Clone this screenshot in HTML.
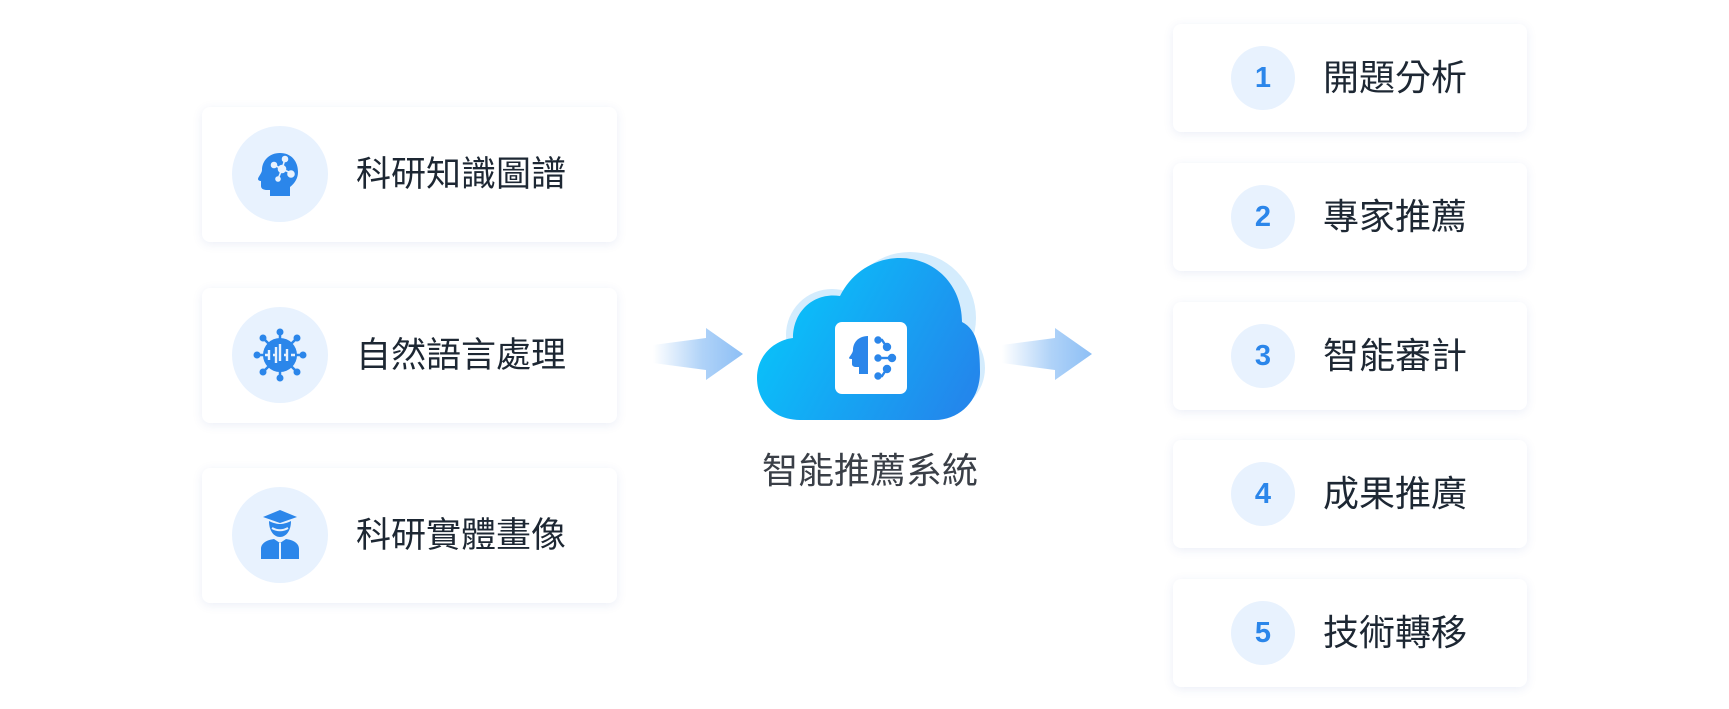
<!DOCTYPE html>
<html><head><meta charset="utf-8"><style>
*{margin:0;padding:0;box-sizing:border-box}
body{width:1729px;height:709px;background:#fff;position:relative;overflow:hidden;font-family:"Liberation Sans","Noto Sans CJK TC",sans-serif}
.card{position:absolute;background:#fff;border-radius:8px;box-shadow:0 2px 10px rgba(60,90,180,0.10)}
.lc{left:202px;width:415px;height:135px}
.rc{left:1173px;width:354px;height:108px}
.ci{position:absolute;left:30px;top:19px;width:96px;height:96px;border-radius:50%;background:#e8f2fe;display:flex;align-items:center;justify-content:center}
.lt{position:absolute;left:154px;top:0;line-height:135px;font-size:35px;color:#1d2733}
.nc{position:absolute;left:58px;top:22px;width:64px;height:64px;border-radius:50%;background:#e8f2fe;color:#2b86ea;font-weight:bold;font-size:29px;text-align:center;line-height:64px}
.rt{position:absolute;left:150px;top:0;line-height:108px;font-size:36px;color:#1d2733}
</style></head><body>
<div class="card lc" style="top:107px"><div class="ci"><svg width="50" height="50" viewBox="0 0 50 50"><path d="M25 4c-11 0-18 8-18 17 0 3-4 7-4 9s3 2 3 2v5c0 3 3 4 6 4h3v6h20v-9c5-4 8-9 8-15C43 12 36 4 25 4z" fill="#2b86ea"/><g stroke="#e8f2fe" stroke-width="1.6" fill="#e8f2fe"><line x1="27" y1="20" x2="19" y2="16"/><line x1="27" y1="20" x2="30" y2="10"/><line x1="27" y1="20" x2="36" y2="24"/><line x1="27" y1="20" x2="23" y2="30"/><circle cx="27" cy="20" r="3.5"/><circle cx="19" cy="16" r="2.5"/><circle cx="30" cy="10" r="2.5"/><circle cx="36" cy="25" r="3"/><circle cx="23" cy="30" r="2"/></g></svg></div><div class="lt">科研知識圖譜</div></div>
<div class="card lc" style="top:288px"><div class="ci"><svg width="56" height="56" viewBox="0 0 56 56"><g stroke="#2b86ea" stroke-width="2.5"><line x1="28" y1="4" x2="28" y2="52"/><line x1="4" y1="28" x2="52" y2="28"/><line x1="11" y1="11" x2="45" y2="45"/><line x1="45" y1="11" x2="11" y2="45"/></g><g fill="#2b86ea"><circle cx="28" cy="28" r="17"/><circle cx="28" cy="5" r="3.5"/><circle cx="28" cy="51" r="3.5"/><circle cx="5" cy="28" r="3.5"/><circle cx="51" cy="28" r="3.5"/><circle cx="11" cy="11" r="3.5"/><circle cx="45" cy="11" r="3.5"/><circle cx="11" cy="45" r="3.5"/><circle cx="45" cy="45" r="3.5"/></g><path d="M13 28h4v-5v10M21 28h3v-8v16M28 28v-11v17M32 28h3v-6v12M39 28h4" stroke="#e8f2fe" stroke-width="2.4" fill="none"/></svg></div><div class="lt">自然語言處理</div></div>
<div class="card lc" style="top:468px"><div class="ci"><svg width="50" height="56" viewBox="0 0 50 56"><path d="M25 3l17 7-17 6-17-6z" fill="#2b86ea"/><path d="M14 14c0 10 5 16 11 16s11-6 11-16c-4 2-8 3-11 3s-7-1-11-3z" fill="#2b86ea"/><path d="M17 21c5 3 11 3 16 0" stroke="#e8f2fe" stroke-width="2" fill="none"/><path d="M6 52v-10c0-6 6-9 13-10l6 4 6-4c7 1 13 4 13 10v10z" fill="#2b86ea"/><path d="M25 36v16" stroke="#e8f2fe" stroke-width="2"/></svg></div><div class="lt">科研實體畫像</div></div>

<svg style="position:absolute;left:0;top:0" width="1729" height="709">
<defs>
<linearGradient id="ar" x1="0" x2="1"><stop offset="0" stop-color="#8dbff5" stop-opacity="0"/><stop offset="0.55" stop-color="#8dbff5" stop-opacity="0.7"/><stop offset="1" stop-color="#8dbff5"/></linearGradient>
<linearGradient id="cl" x1="0" y1="0.3" x2="1" y2="0.7"><stop offset="0" stop-color="#07c6fb"/><stop offset="1" stop-color="#2387ec"/></linearGradient>
</defs>
<path d="M653 345L706 338V328L743 354L706 380V370L653 363Z" fill="url(#ar)"/>
<path d="M1002 345L1055 338V328L1092 354L1055 380V370L1002 363Z" fill="url(#ar)"/>
<g fill="#d4ecfd"><circle cx="910" cy="318" r="66"/><circle cx="832" cy="335" r="46"/><circle cx="940" cy="368" r="45"/></g>
<path d="M800 420C772 420 757 400 757 378C757 355 775 340 793 338C793 310 815 292 840 296C852 272 875 258 900 258C935 258 962 285 962 322C978 330 980 350 980 372C980 400 960 420 935 420Z" fill="url(#cl)"/>
<rect x="835" y="322" width="72" height="72" rx="7" fill="#fff"/>
<path d="M868 336c-10 0-15 7-15 14 0 3-4 7-4 8s3 1 3 1v5c0 2 2 3 4 3h3v7h9z" fill="#2b86ea"/>
<g stroke="#2b86ea" stroke-width="2.4" fill="#2b86ea"><path d="M878 340h4l4 6" fill="none"/><circle cx="878" cy="340" r="2.5"/><circle cx="887" cy="347" r="3"/><line x1="878" y1="358" x2="892" y2="358"/><circle cx="878" cy="358" r="2.5"/><circle cx="892" cy="358" r="3"/><path d="M878 376h4l4-6" fill="none"/><circle cx="878" cy="376" r="2.5"/><circle cx="887" cy="369" r="3"/></g>
<text x="870" y="483" text-anchor="middle" font-size="36" fill="#3a3f47" font-family="Liberation Sans, Noto Sans CJK TC, sans-serif">智能推薦系統</text>
</svg>

<div class="card rc" style="top:24px"><div class="nc">1</div><div class="rt">開題分析</div></div>
<div class="card rc" style="top:163px"><div class="nc">2</div><div class="rt">專家推薦</div></div>
<div class="card rc" style="top:302px"><div class="nc">3</div><div class="rt">智能審計</div></div>
<div class="card rc" style="top:440px"><div class="nc">4</div><div class="rt">成果推廣</div></div>
<div class="card rc" style="top:579px"><div class="nc">5</div><div class="rt">技術轉移</div></div>
</body></html>
